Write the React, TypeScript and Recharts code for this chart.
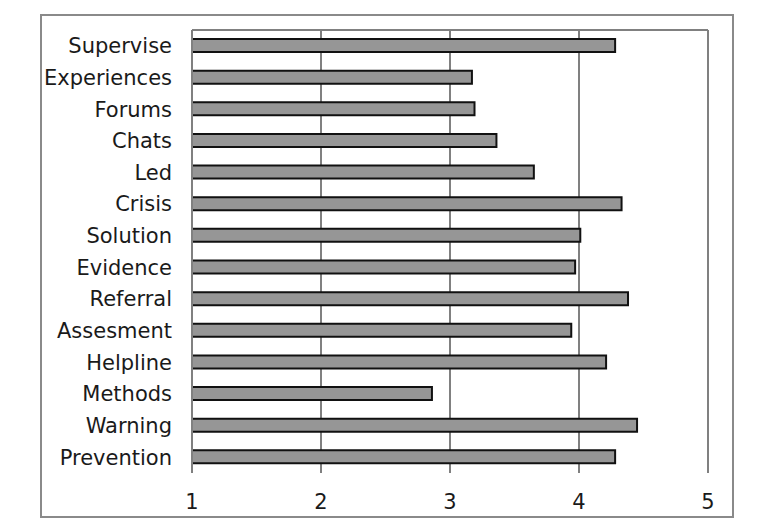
import React from 'react';
import { BarChart, Bar, XAxis, YAxis, CartesianGrid } from 'recharts';

// Item labels, top to bottom as shown in the chart
const categories = [
  'Supervise',
  'Experiences',
  'Forums',
  'Chats',
  'Led',
  'Crisis',
  'Solution',
  'Evidence',
  'Referral',
  'Assesment',
  'Helpline',
  'Methods',
  'Warning',
  'Prevention',
];

// Mean scores
const scores = [4.28, 3.17, 3.19, 3.36, 3.65, 4.33, 4.01, 3.97, 4.38, 3.94, 4.21, 2.86, 4.45, 4.28];

const xTicks = [1, 2, 3, 4, 5];

const data = categories.map((name, i) => ({ name, score: scores[i] }));

const FONT = '"DejaVu Sans", Verdana, sans-serif';

export default function App() {
  return (
    <div style={{ position: 'relative', width: 775, height: 532, margin: -8, background: '#fff' }}>
      <div
        style={{
          position: 'absolute',
          left: 40,
          top: 14,
          width: 694,
          height: 504,
          border: '2px solid #8a8a8a',
          boxSizing: 'border-box',
        }}
      />
      <BarChart
        width={775}
        height={532}
        data={data}
        layout="vertical"
        margin={{ top: 30, right: 67, bottom: 19, left: 42 }}
        style={{ position: 'absolute', left: 0, top: 0, fontFamily: FONT }}
      >
        <CartesianGrid
          stroke="#808080"
          strokeWidth={2}
          vertical
          horizontal
          horizontalCoordinatesGenerator={({ offset }: any) => [offset.top]}
        />
        <XAxis
          type="number"
          domain={[1, 5]}
          ticks={xTicks}
          allowDataOverflow
          axisLine={false}
          tickLine={false}
          tickSize={0}
          tickMargin={21}
          height={40}
          tick={{ fontSize: 21, fill: '#1a1a1a', fontFamily: FONT }}
        />
        <YAxis
          type="category"
          dataKey="name"
          width={150}
          axisLine={{ stroke: '#808080', strokeWidth: 2 }}
          tickLine={false}
          tickSize={0}
          tickMargin={20}
          interval={0}
          tick={{ fontSize: 21, fill: '#1a1a1a', fontFamily: FONT }}
        />
        <Bar
          dataKey="score"
          barSize={13}
          fill="#969696"
          stroke="#111"
          strokeWidth={2}
          isAnimationActive={false}
        />
      </BarChart>
    </div>
  );
}
